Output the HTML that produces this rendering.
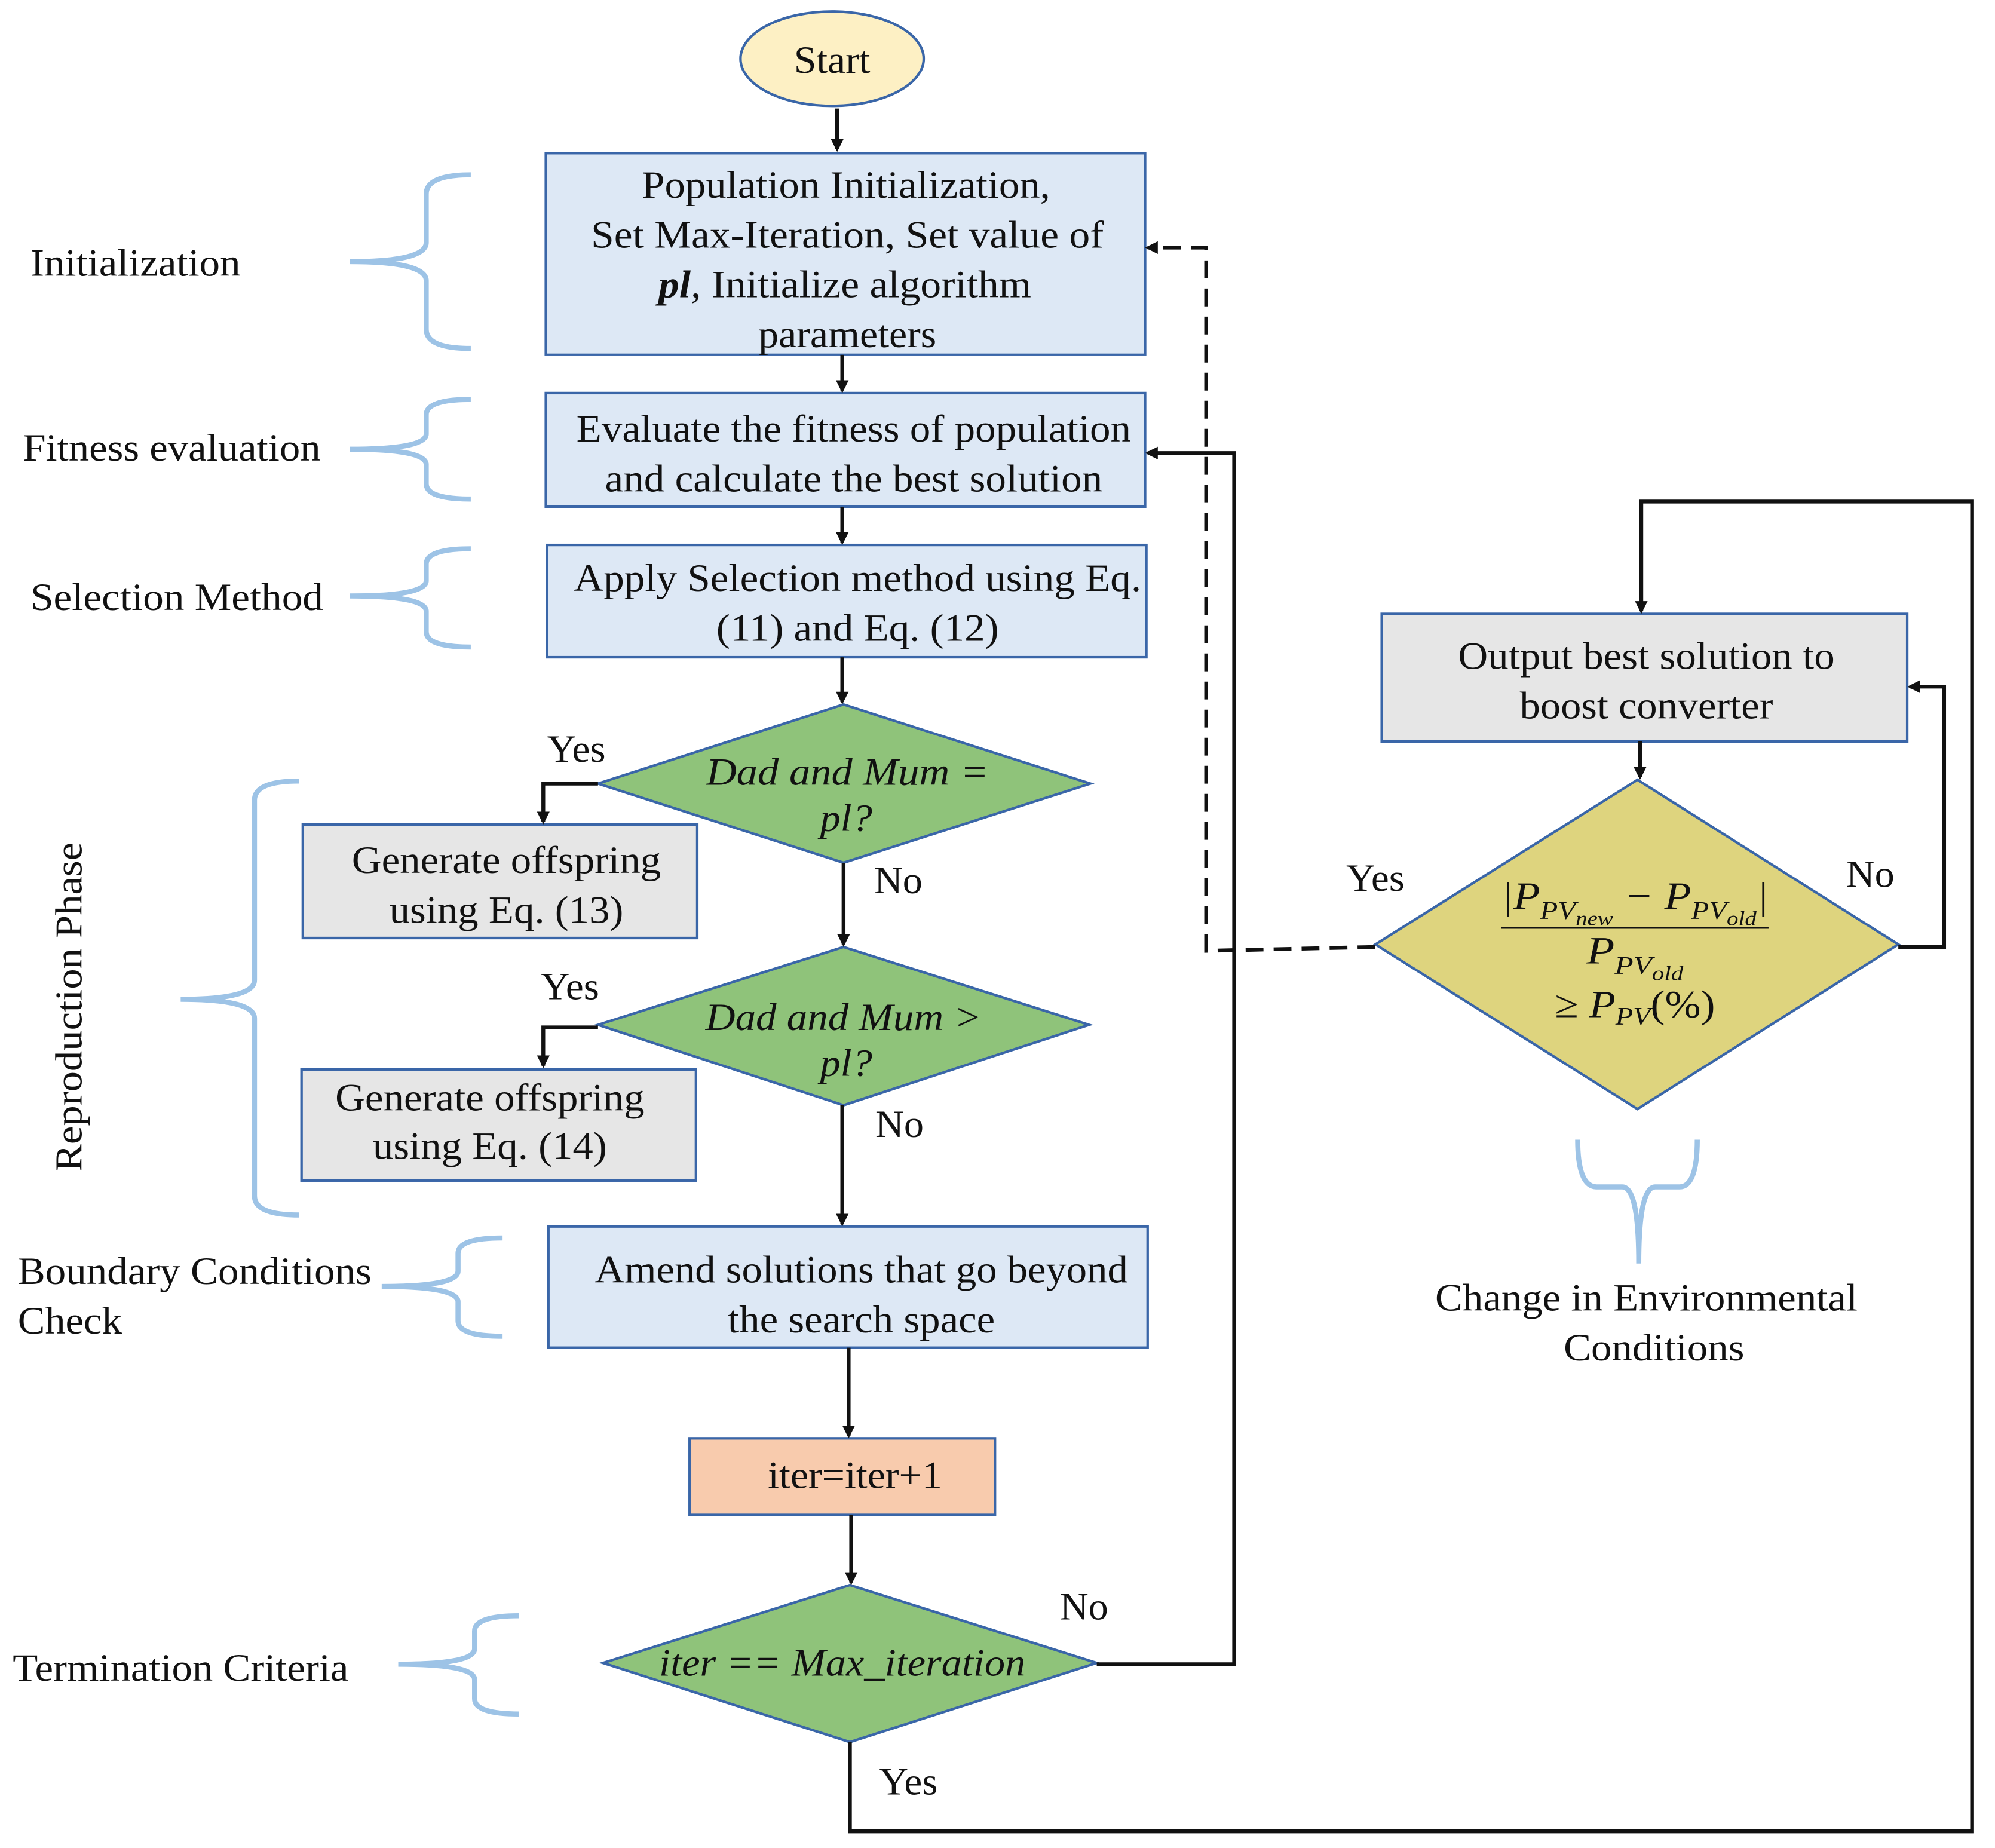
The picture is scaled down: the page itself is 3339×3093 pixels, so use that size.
<!DOCTYPE html>
<html><head><meta charset="utf-8"><style>
html,body{margin:0;padding:0;background:#fff;}
svg{display:block;}
text{font-family:"Liberation Serif",serif;fill:#111;}
</style></head><body>
<svg width="3339" height="3093" viewBox="0 0 1568 1448" preserveAspectRatio="none" xmlns="http://www.w3.org/2000/svg">
<defs>
<marker id="ah" markerWidth="10" markerHeight="10" refX="8" refY="5" orient="auto" markerUnits="userSpaceOnUse">
<path d="M0,0 L10,5 L0,10 z" fill="#111"/></marker>
</defs>
<g font-size="30" text-anchor="middle" lengthAdjust="spacingAndGlyphs">
<ellipse cx="654" cy="46" rx="72" ry="37" fill="#fdf0c4" stroke="#3a66a8" stroke-width="2"/>
<text x="654" y="57" textLength="60" lengthAdjust="spacingAndGlyphs">Start</text>

<rect x="429" y="120" width="471" height="158" fill="#dde8f5" stroke="#3a66a8" stroke-width="2"/>
<text x="665" y="155" textLength="321" lengthAdjust="spacingAndGlyphs">Population Initialization,</text>
<text x="666" y="194" textLength="403" lengthAdjust="spacingAndGlyphs">Set Max-Iteration, Set value of</text>
<text x="664" y="233" textLength="293" lengthAdjust="spacingAndGlyphs"><tspan font-weight="bold" font-style="italic">pl</tspan>, Initialize algorithm</text>
<text x="666" y="272" textLength="140" lengthAdjust="spacingAndGlyphs">parameters</text>

<rect x="429" y="308" width="471" height="89" fill="#dde8f5" stroke="#3a66a8" stroke-width="2"/>
<text x="671" y="346" textLength="436" lengthAdjust="spacingAndGlyphs">Evaluate the fitness of population</text>
<text x="671" y="385" textLength="391" lengthAdjust="spacingAndGlyphs">and calculate the best solution</text>

<rect x="430" y="427" width="471" height="88" fill="#dde8f5" stroke="#3a66a8" stroke-width="2"/>
<text x="674" y="463" textLength="446" lengthAdjust="spacingAndGlyphs">Apply Selection method using Eq.</text>
<text x="674" y="502" textLength="222" lengthAdjust="spacingAndGlyphs">(11) and Eq. (12)</text>

<polygon points="470,614 663,552 857,614 663,676" fill="#8fc37a" stroke="#3a66a8" stroke-width="2"/>
<text x="666" y="615" font-style="italic" textLength="222" lengthAdjust="spacingAndGlyphs">Dad and Mum  =</text>
<text x="665" y="651" font-style="italic" textLength="41" lengthAdjust="spacingAndGlyphs">pl?</text>

<rect x="238" y="646" width="310" height="89" fill="#e6e6e6" stroke="#3a66a8" stroke-width="2"/>
<text x="398" y="684" textLength="243" lengthAdjust="spacingAndGlyphs">Generate offspring</text>
<text x="398" y="723" textLength="184" lengthAdjust="spacingAndGlyphs">using Eq. (13)</text>

<polygon points="470,803 663,742 856,803 663,866" fill="#8fc37a" stroke="#3a66a8" stroke-width="2"/>
<text x="663" y="807" font-style="italic" textLength="217" lengthAdjust="spacingAndGlyphs">Dad and Mum &gt;</text>
<text x="665" y="843" font-style="italic" textLength="41" lengthAdjust="spacingAndGlyphs">pl?</text>

<rect x="237" y="838" width="310" height="87" fill="#e6e6e6" stroke="#3a66a8" stroke-width="2"/>
<text x="385" y="870" textLength="243" lengthAdjust="spacingAndGlyphs">Generate offspring</text>
<text x="385" y="908" textLength="184" lengthAdjust="spacingAndGlyphs">using Eq. (14)</text>

<rect x="431" y="961" width="471" height="95" fill="#dde8f5" stroke="#3a66a8" stroke-width="2"/>
<text x="677" y="1005" textLength="419" lengthAdjust="spacingAndGlyphs">Amend solutions that go beyond</text>
<text x="677" y="1044" textLength="210" lengthAdjust="spacingAndGlyphs">the search space</text>

<rect x="542" y="1127" width="240" height="60" fill="#f8cbad" stroke="#3a66a8" stroke-width="2"/>
<text x="672" y="1166" textLength="137" lengthAdjust="spacingAndGlyphs">iter=iter+1</text>

<polygon points="474,1303 668,1242 862,1303 668,1365" fill="#8fc37a" stroke="#3a66a8" stroke-width="2"/>
<text x="662" y="1313" font-style="italic" textLength="288" lengthAdjust="spacingAndGlyphs">iter == Max_iteration</text>

<rect x="1086" y="481" width="413" height="100" fill="#e6e6e6" stroke="#3a66a8" stroke-width="2"/>
<text x="1294" y="524" textLength="296" lengthAdjust="spacingAndGlyphs">Output best solution to</text>
<text x="1294" y="563" textLength="199" lengthAdjust="spacingAndGlyphs">boost converter</text>

<polygon points="1081,740 1287,611 1492,740 1287,869" fill="#ded47e" stroke="#3a66a8" stroke-width="2"/>
<text x="1285" y="712" font-style="italic" textLength="210" lengthAdjust="spacingAndGlyphs">|P<tspan font-size="20" dy="8">PV</tspan><tspan font-size="16" dy="5">new</tspan><tspan dy="-13"> − P</tspan><tspan font-size="20" dy="8">PV</tspan><tspan font-size="16" dy="5">old</tspan><tspan dy="-13">|</tspan></text>
<line x1="1180" y1="727" x2="1390" y2="727" stroke="#111" stroke-width="1.5"/>
<text x="1285" y="755" font-style="italic" textLength="76" lengthAdjust="spacingAndGlyphs">P<tspan font-size="20" dy="8">PV</tspan><tspan font-size="16" dy="5">old</tspan></text>
<text x="1285" y="797" textLength="126" lengthAdjust="spacingAndGlyphs">≥ <tspan font-style="italic">P</tspan><tspan font-size="20" dy="6" font-style="italic">PV</tspan><tspan dy="-6">(%)</tspan></text>

<g text-anchor="start">
<text x="24" y="216" textLength="165" lengthAdjust="spacingAndGlyphs">Initialization</text>
<text x="18" y="361" textLength="234" lengthAdjust="spacingAndGlyphs">Fitness evaluation</text>
<text x="24" y="478" textLength="230" lengthAdjust="spacingAndGlyphs">Selection Method</text>
<text x="14" y="1006" textLength="278" lengthAdjust="spacingAndGlyphs">Boundary Conditions</text>
<text x="14" y="1045" textLength="82" lengthAdjust="spacingAndGlyphs">Check</text>
<text x="10" y="1317" textLength="264" lengthAdjust="spacingAndGlyphs">Termination Criteria</text>
</g>
<text x="0" y="0" transform="translate(64,789) rotate(-90)" textLength="258" lengthAdjust="spacingAndGlyphs">Reproduction Phase</text>
<text x="1294" y="1027" textLength="332" lengthAdjust="spacingAndGlyphs">Change in Environmental</text>
<text x="1300" y="1066" textLength="142" lengthAdjust="spacingAndGlyphs">Conditions</text>

<text x="453" y="597" textLength="46" lengthAdjust="spacingAndGlyphs">Yes</text>
<text x="706" y="700" textLength="38" lengthAdjust="spacingAndGlyphs">No</text>
<text x="448" y="783" textLength="46" lengthAdjust="spacingAndGlyphs">Yes</text>
<text x="707" y="891" textLength="38" lengthAdjust="spacingAndGlyphs">No</text>
<text x="852" y="1269" textLength="38" lengthAdjust="spacingAndGlyphs">No</text>
<text x="714" y="1406" textLength="46" lengthAdjust="spacingAndGlyphs">Yes</text>
<text x="1081" y="698" textLength="46" lengthAdjust="spacingAndGlyphs">Yes</text>
<text x="1470" y="695" textLength="38" lengthAdjust="spacingAndGlyphs">No</text>
</g>

<g stroke="#111" stroke-width="3" fill="none">
<line x1="658" y1="85" x2="658" y2="117" marker-end="url(#ah)"/>
<line x1="662" y1="278" x2="662" y2="306" marker-end="url(#ah)"/>
<line x1="662" y1="397" x2="662" y2="425" marker-end="url(#ah)"/>
<line x1="662" y1="515" x2="662" y2="550" marker-end="url(#ah)"/>
<polyline points="470,614 427,614 427,644" marker-end="url(#ah)"/>
<line x1="663" y1="676" x2="663" y2="740" marker-end="url(#ah)"/>
<polyline points="470,805 427,805 427,835" marker-end="url(#ah)"/>
<line x1="662" y1="866" x2="662" y2="959" marker-end="url(#ah)"/>
<line x1="667" y1="1056" x2="667" y2="1125" marker-end="url(#ah)"/>
<line x1="669" y1="1187" x2="669" y2="1240" marker-end="url(#ah)"/>
<polyline points="862,1304 970,1304 970,355 902,355" marker-end="url(#ah)"/>
<polyline points="668,1365 668,1435 1550,1435 1550,393 1290,393 1290,479" marker-end="url(#ah)"/>
<line x1="1289" y1="581" x2="1289" y2="609" marker-end="url(#ah)"/>
<polyline points="1492,742 1528,742 1528,538 1501,538" marker-end="url(#ah)"/>
<polyline points="1081,742 948,745 948,194 902,194" stroke-dasharray="14,8" marker-end="url(#ah)"/>
</g>

<g stroke="#9dc3e6" stroke-width="4" fill="none">
<path d="M370,137 Q335,137 335,152 L335,190 Q335,205 275,205 Q335,205 335,220 L335,258 Q335,273 370,273"/>
<path d="M370,313 Q335,313 335,325 L335,340 Q335,352 275,352 Q335,352 335,364 L335,379 Q335,391 370,391"/>
<path d="M370,430 Q335,430 335,442 L335,455 Q335,467 275,467 Q335,467 335,479 L335,495 Q335,507 370,507"/>
<path d="M235,612 Q200,612 200,627 L200,768 Q200,783 142,783 Q200,783 200,798 L200,937 Q200,952 235,952"/>
<path d="M395,970 Q360,970 360,982 L360,996 Q360,1008 300,1008 Q360,1008 360,1020 L360,1035 Q360,1047 395,1047"/>
<path d="M408,1266 Q373,1266 373,1278 L373,1292 Q373,1304 313,1304 Q373,1304 373,1316 L373,1331 Q373,1343 408,1343"/>
<path d="M1240,893 Q1240,930 1255,930 L1275,930 Q1288,930 1288,990 Q1288,930 1301,930 L1320,930 Q1334,930 1334,893"/>
</g>
</svg>
</body></html>
